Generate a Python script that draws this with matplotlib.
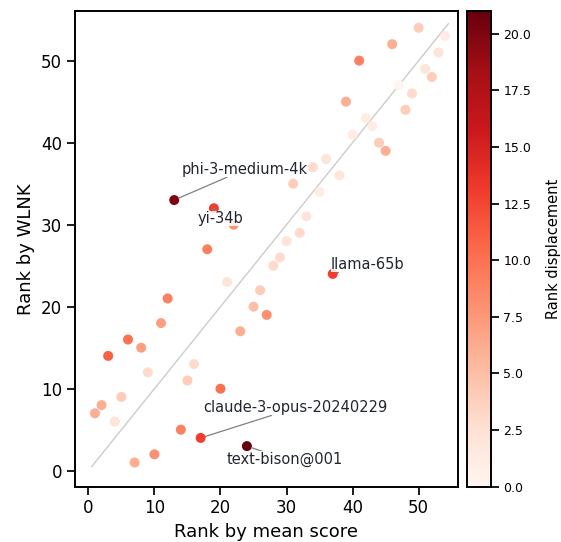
import matplotlib
matplotlib.use("Agg")
import matplotlib.pyplot as plt
import numpy as np

# ---- data ----
mean_rank = [1, 2, 3, 4, 5, 6, 7, 8, 9, 10, 11, 12, 13, 14, 15, 16, 17, 18,
             19, 20, 21, 22, 23, 24, 25, 26, 27, 28, 29, 30, 31, 32, 33, 34,
             35, 36, 37, 38, 39, 40, 41, 42, 43, 44, 45, 46, 47, 48, 49, 50,
             51, 52, 53, 54]
wlnk_rank = [7, 8, 14, 6, 9, 16, 1, 15, 12, 2, 18, 21, 33, 5, 11, 13, 4, 27,
             32, 10, 23, 30, 17, 3, 20, 22, 19, 25, 26, 28, 35, 29, 31, 37,
             34, 38, 24, 36, 45, 41, 50, 43, 42, 40, 39, 52, 47, 44, 46, 54,
             49, 48, 51, 53]
labelled_models = ["phi-3-medium-4k", "yi-34b", "llama-65b",
                   "claude-3-opus-20240229", "text-bison@001"]
labelled_mean_rank = [13, 19, 37, 17, 24]
diag_range = [0.5, 54.5]

# ---- layout (text positions in data coordinates) ----
label_pos = {
    "phi-3-medium-4k": (23.6, 36.7),
    "yi-34b": (20.05, 30.75),
    "llama-65b": (42.3, 25.1),
    "claude-3-opus-20240229": (31.3, 7.65),
    "text-bison@001": (29.8, 1.42),
}

x = np.array(mean_rank)
y = np.array(wlnk_rank)
disp = np.abs(x - y)

fig = plt.figure(figsize=(5.61, 5.42), dpi=100)
ax = fig.add_axes([0.1328, 0.1020, 0.6841, 0.8777])
cax = fig.add_axes([0.8330, 0.1020, 0.0417, 0.8777])

ax.plot(diag_range, diag_range, color="#cccccc", lw=1.0, zorder=1)
sc = ax.scatter(x, y, c=disp, cmap="Reds", vmin=0, vmax=disp.max(),
                s=52, linewidths=0, zorder=3)

for name, mr in zip(labelled_models, labelled_mean_rank):
    px = mr
    py = wlnk_rank[mean_rank.index(mr)]
    ax.annotate(name, xy=(px, py), xytext=label_pos[name],
                ha="center", va="center", fontsize=10.5, color="#222630",
                bbox=dict(boxstyle="square,pad=0.0", fc="white", ec="none",
                          alpha=0.85),
                arrowprops=dict(arrowstyle="-", color="#808080", lw=0.9,
                                shrinkA=0, shrinkB=3.5),
                zorder=4)

ax.set_xlim(-2.1, 56.0)
ax.set_ylim(-1.95, 56.05)
ax.set_xticks([0, 10, 20, 30, 40, 50])
ax.set_yticks([0, 10, 20, 30, 40, 50])
ax.set_xlabel("Rank by mean score", fontsize=13, labelpad=4)
ax.set_ylabel("Rank by WLNK", fontsize=13, labelpad=4)
ax.tick_params(labelsize=12, length=5.5, width=1.25, direction="out")
for s in ax.spines.values():
    s.set_linewidth(1.4)

cb = fig.colorbar(sc, cax=cax)
cb.set_label("Rank displacement", fontsize=10.5, labelpad=11)
cb.ax.tick_params(labelsize=9, length=5.5, width=1.25)
cb.outline.set_linewidth(1.4)
cb.set_ticks([0, 2.5, 5, 7.5, 10, 12.5, 15, 17.5, 20])

fig.savefig("out.png", dpi=100)
